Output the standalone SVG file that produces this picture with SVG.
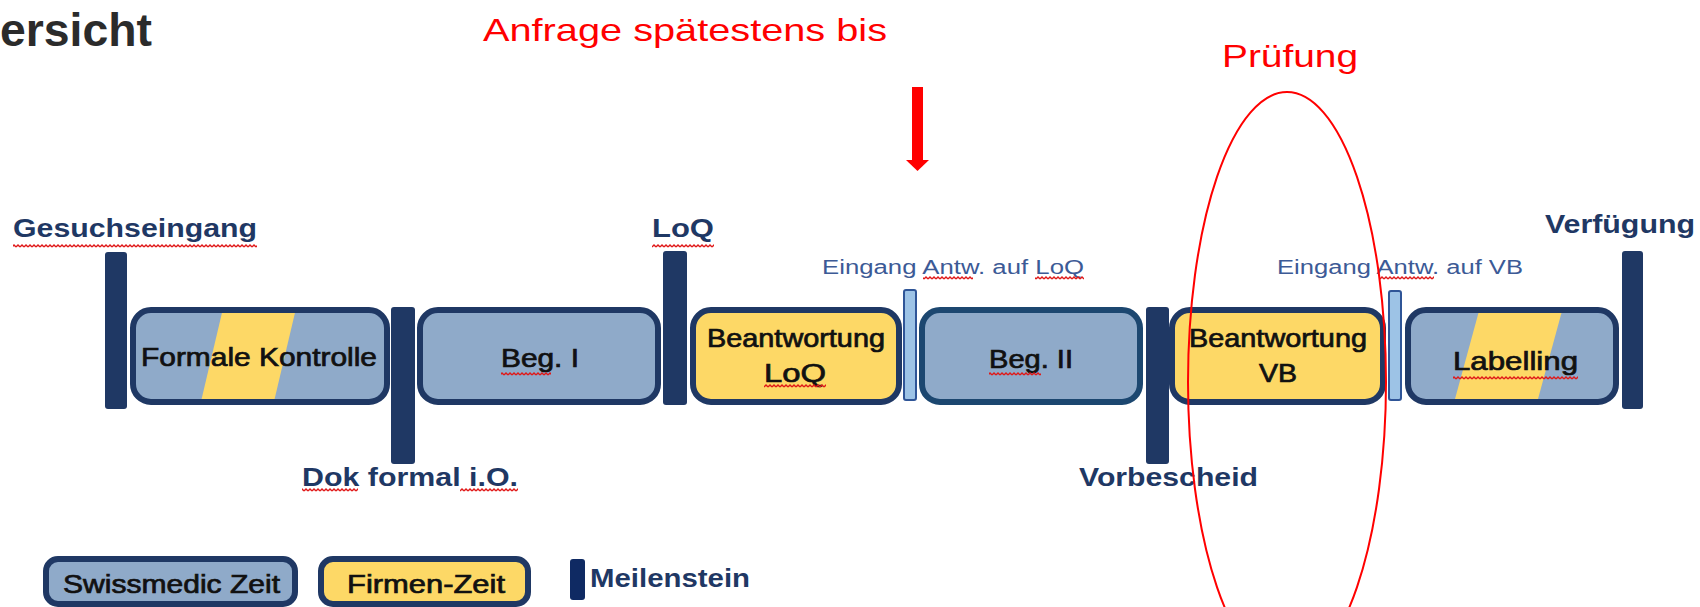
<svg xmlns="http://www.w3.org/2000/svg" width="1700" height="607" viewBox="0 0 1700 607">
<defs>
<style>
.box{stroke:#1F3864;stroke-width:6}
.blue{fill:#8FAAC9}
.yel{fill:#FDD866}
.band{fill:#FDD866}
.ms{fill:#1F3864}
.sm{fill:#9DC3E6;stroke:#2F5597;stroke-width:2}
.lbl{font-family:"Liberation Sans",Arial,sans-serif;font-weight:bold;font-size:25px;fill:#1F3864}
.bt{font-family:"Liberation Sans",Arial,sans-serif;font-size:25px;fill:#111;stroke:#111;stroke-width:0.7}
.ein{font-family:"Liberation Sans",Arial,sans-serif;font-size:20px;fill:#3C5A96}
.red{font-family:"Liberation Sans",Arial,sans-serif;font-size:32px;fill:#FF0000}
.sq{fill:url(#squig)}
</style>
<pattern id="squig" width="4" height="4" patternUnits="userSpaceOnUse">
<path d="M0 3 L2 1 L4 3" fill="none" stroke="#E01818" stroke-width="1.4"/>
</pattern>
<clipPath id="c1"><rect x="133" y="310" width="254" height="92" rx="18"/></clipPath>
<clipPath id="c6"><rect x="1408" y="310" width="208" height="92" rx="18"/></clipPath>
</defs>

<text x="0" y="46" textLength="152" lengthAdjust="spacingAndGlyphs" font-family="Liberation Sans, Arial, sans-serif" font-weight="bold" font-size="47" fill="#2B2B2B">ersicht</text>
<text class="red" x="483" y="41" textLength="404" lengthAdjust="spacingAndGlyphs">Anfrage spätestens bis</text>
<text class="red" x="1222" y="67" textLength="136" lengthAdjust="spacingAndGlyphs">Prüfung</text>

<g id="arrow">
<rect x="912" y="87" width="11" height="74" fill="#FF0000"/>
<polygon points="906,160 929,160 917.5,171" fill="#FF0000"/>
</g>

<g id="milestones">
<g id="ms-gesuch"><rect class="ms" x="105" y="252" width="22" height="157" rx="3"/><text class="lbl" x="13" y="237" textLength="244" lengthAdjust="spacingAndGlyphs">Gesuchseingang</text><rect class="sq" x="13" y="244" width="244" height="4"/></g>
<g id="ms-dok"><rect class="ms" x="391" y="307" width="24" height="157" rx="3"/><text class="lbl" x="302" y="486" textLength="216" lengthAdjust="spacingAndGlyphs">Dok formal i.O.</text><rect class="sq" x="302" y="488" width="56" height="4"/><rect class="sq" x="460" y="488" width="58" height="4"/></g>
<g id="ms-loq"><rect class="ms" x="663" y="251" width="24" height="154" rx="3"/><text class="lbl" x="652" y="237" textLength="62" lengthAdjust="spacingAndGlyphs">LoQ</text><rect class="sq" x="652" y="244" width="62" height="4"/></g>
<g id="ms-eing1"><rect class="sm" x="904" y="290" width="12" height="110" rx="2"/><text class="ein" x="822" y="274" textLength="262" lengthAdjust="spacingAndGlyphs">Eingang  Antw. auf LoQ</text><rect class="sq" x="923" y="276" width="50" height="4"/><rect class="sq" x="1035" y="276" width="49" height="4"/></g>
<g id="ms-vorb"><rect class="ms" x="1146" y="307" width="23" height="157" rx="3"/><text class="lbl" x="1079" y="486" textLength="179" lengthAdjust="spacingAndGlyphs">Vorbescheid</text></g>
<g id="ms-eing2"><rect class="sm" x="1389" y="291" width="12" height="109" rx="2"/><text class="ein" x="1277" y="274" textLength="246" lengthAdjust="spacingAndGlyphs">Eingang  Antw. auf VB</text><rect class="sq" x="1379" y="276" width="55" height="4"/></g>
<g id="ms-verf"><rect class="ms" x="1622" y="251" width="21" height="158" rx="3"/><text class="lbl" x="1545" y="233" textLength="150" lengthAdjust="spacingAndGlyphs">Verfügung</text></g>
</g>

<g id="phases">
<g id="box-formal">
<rect class="blue" x="133" y="310" width="254" height="92" rx="18"/>
<polygon class="band" clip-path="url(#c1)" points="225,300 298,300 272,410 199,410"/>
<rect class="box" fill="none" x="133" y="310" width="254" height="92" rx="18"/>
<text class="bt" x="141" y="366" textLength="236" lengthAdjust="spacingAndGlyphs">Formale Kontrolle</text>
</g>
<g id="box-beg1">
<rect class="box blue" x="420" y="310" width="238" height="92" rx="18"/>
<text class="bt" x="501" y="367" textLength="78" lengthAdjust="spacingAndGlyphs">Beg. I</text>
<rect class="sq" x="501" y="372" width="50" height="4"/>
</g>
<g id="box-antw-loq">
<rect class="box yel" x="693" y="310" width="206" height="92" rx="18"/>
<text class="bt" x="707" y="347" textLength="178" lengthAdjust="spacingAndGlyphs">Beantwortung</text>
<text class="bt" x="764" y="382" textLength="62" lengthAdjust="spacingAndGlyphs">LoQ</text>
<rect class="sq" x="764" y="384" width="62" height="4"/>
</g>
<g id="box-beg2">
<rect class="blue" x="922" y="310" width="218" height="92" rx="18" stroke="#1C4770" stroke-width="6"/>
<text class="bt" x="989" y="368" textLength="84" lengthAdjust="spacingAndGlyphs">Beg. II</text>
<rect class="sq" x="989" y="372" width="52" height="4"/>
</g>
<g id="box-antw-vb">
<rect class="box yel" x="1172" y="310" width="211" height="92" rx="18"/>
<text class="bt" x="1189" y="347" textLength="178" lengthAdjust="spacingAndGlyphs">Beantwortung</text>
<text class="bt" x="1259" y="382" textLength="38" lengthAdjust="spacingAndGlyphs">VB</text>
</g>
<g id="box-label">
<rect class="blue" x="1408" y="310" width="208" height="92" rx="18"/>
<polygon class="band" clip-path="url(#c6)" points="1482,300 1565,300 1535,410 1452,410"/>
<rect class="box" fill="none" x="1408" y="310" width="208" height="92" rx="18"/>
<text class="bt" x="1453" y="370" textLength="125" lengthAdjust="spacingAndGlyphs">Labelling</text>
<rect class="sq" x="1453" y="376" width="125" height="4"/>
</g>
</g>

<g id="legend">
<g id="leg-sm"><rect class="box blue" x="46" y="559" width="249" height="45" rx="12" stroke="#0F2A63"/><text class="bt" x="63" y="593" font-size="26" textLength="217" lengthAdjust="spacingAndGlyphs">Swissmedic Zeit</text></g>
<g id="leg-fi"><rect class="box yel" x="321" y="559" width="207" height="45" rx="12"/><text class="bt" x="347" y="593" font-size="26" textLength="158" lengthAdjust="spacingAndGlyphs">Firmen-Zeit</text></g>
<g id="leg-ms"><rect x="570" y="559" width="15" height="41" rx="3" fill="#0F2A63"/><text class="lbl" x="590" y="587" textLength="160" lengthAdjust="spacingAndGlyphs">Meilenstein</text></g>
</g>

<g id="connectors">
<ellipse cx="1287" cy="382" rx="99" ry="290" fill="none" stroke="#FF0000" stroke-width="2"/>
</g>
</svg>
